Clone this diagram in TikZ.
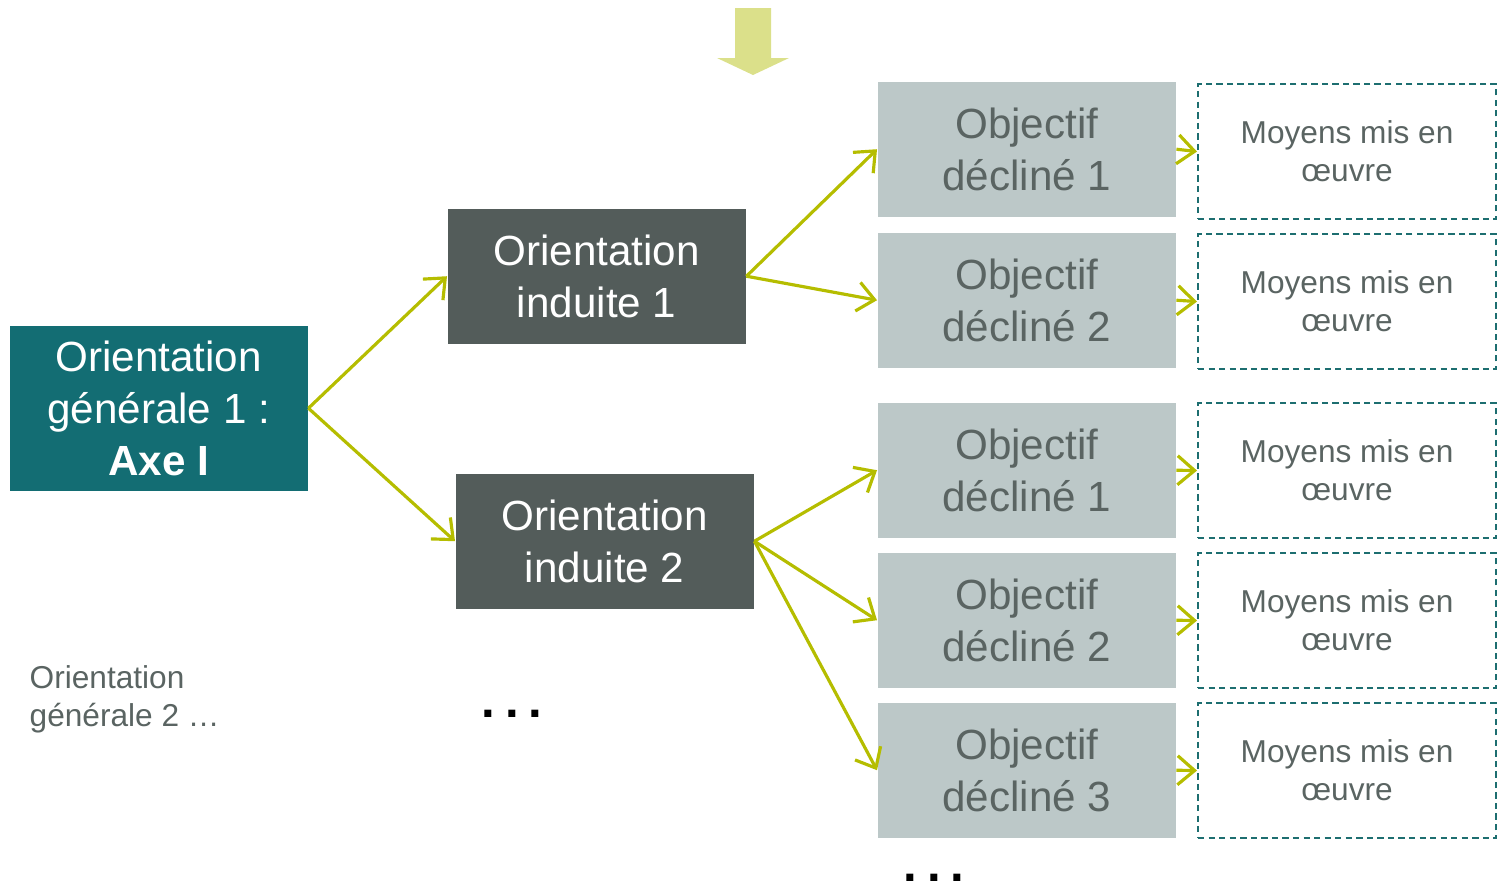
\documentclass[tikz,border=0pt]{standalone}
\usepackage{fontspec}
\setmainfont{Liberation Sans}
\usetikzlibrary{arrows.meta}

\definecolor{axeteal}{RGB}{19,109,115}
\definecolor{inddark}{RGB}{83,92,90}
\definecolor{objgrey}{RGB}{188,200,200}
\definecolor{txtgrey}{RGB}{90,100,98}
\definecolor{arrgreen}{RGB}{181,189,0}
\definecolor{topyellow}{RGB}{219,224,138}
\definecolor{dashteal}{RGB}{29,110,112}

\tikzset{
  box/.style={anchor=north west, minimum width=2.98cm, minimum height=1.35cm, inner sep=0pt, align=center, font=\fontsize{12}{14.8}\selectfont},
  axebox/.style={box, fill=axeteal, text=white, minimum height=1.65cm},
  indbox/.style={box, fill=inddark, text=white},
  objbox/.style={box, fill=objgrey, text=txtgrey},
  moybox/.style={box, draw=dashteal, line width=0.6pt, dash pattern=on 1.8pt off 1.2pt, text=txtgrey, font=\fontsize{9}{10.8}\selectfont},
  link/.style={draw=arrgreen, line width=0.9pt, -{Straight Barb[length=1.7mm,width=2.9mm,line width=0.9pt]}}
}

\begin{document}
\begin{tikzpicture}
		\useasboundingbox (0,0) rectangle (15.05,-8.94);
		%top arrow
			\fill[topyellow] (7.35,-0.08) -- (7.71,-0.08) -- (7.71,-0.58) -- (7.89,-0.58) -- (7.53,-0.75) -- (7.17,-0.58) -- (7.35,-0.58) -- cycle;
		%orientation generale
			\node[axebox] (axe) at (0.09,-3.25) {Orientation\\générale 1 :\\\textbf{Axe I}};
			\node[anchor=north west, align=left, inner sep=0pt, text=txtgrey, font=\fontsize{9}{10.8}\selectfont] (gen2) at (0.29,-6.65) {Orientation\\générale 2 …};
		%orientations induites
			\node[indbox] (ind1) at (4.47,-2.08) {Orientation\\induite 1};
			\node[indbox] (ind2) at (4.55,-4.73) {Orientation\\induite 2};
			\node[font=\fontsize{14}{16}\selectfont\bfseries] (dots1) at (5.12,-7.14) {.\hspace{0.1cm}.\hspace{0.1cm}.};
		%objectifs + moyens
			\node[objbox] (obj1) at (8.77,-0.81) {Objectif\\décliné 1};
			\node[objbox] (obj2) at (8.77,-2.32) {Objectif\\décliné 2};
			\node[objbox] (obj3) at (8.77,-4.02) {Objectif\\décliné 1};
			\node[objbox] (obj4) at (8.77,-5.52) {Objectif\\décliné 2};
			\node[objbox] (obj5) at (8.77,-7.02) {Objectif\\décliné 3};
			\node[font=\fontsize{14}{16}\selectfont\bfseries] (dots2) at (9.34,-8.78) {.\hspace{0.1cm}.\hspace{0.1cm}.};
			\foreach \i/\y in {1/-0.83,2/-2.33,3/-4.02,4/-5.52,5/-7.02}{
				\node[moybox] (moy\i) at (11.97,\y) {Moyens mis en\\œuvre};
				\draw[link] (obj\i.east) -- (moy\i.west);
			}
		%arrows
			\draw[link] (axe.east) -- (ind1.west);
			\draw[link] (axe.east) -- (ind2.west);
			\draw[link] (ind1.east) -- (obj1.west);
			\draw[link] (ind1.east) -- (obj2.west);
			\draw[link] (ind2.east) -- (obj3.west);
			\draw[link] (ind2.east) -- (obj4.west);
			\draw[link] (ind2.east) -- (obj5.west);
	\end{tikzpicture}
\end{document}
